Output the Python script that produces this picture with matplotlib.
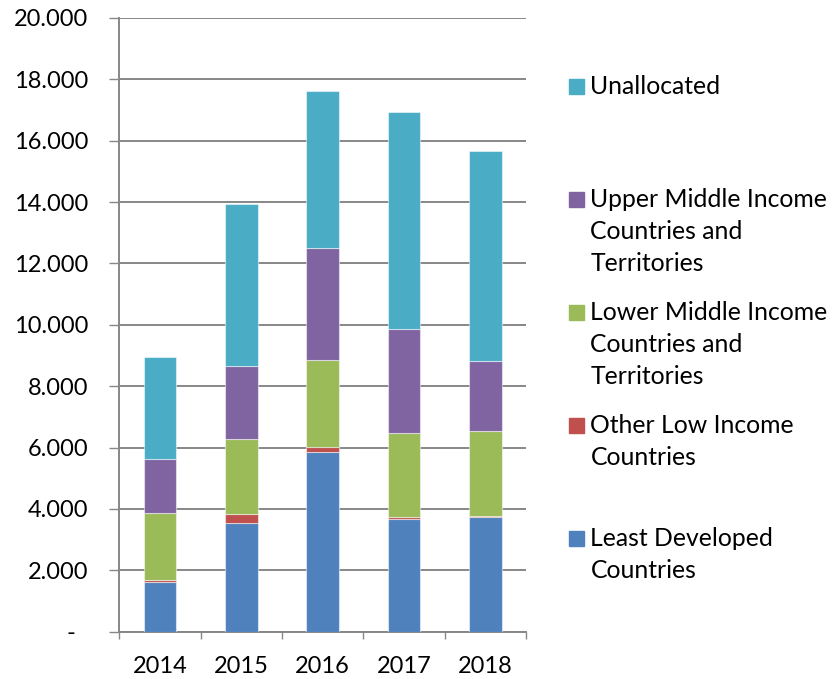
import matplotlib
matplotlib.use("Agg")
import matplotlib.pyplot as plt
from matplotlib.patches import Rectangle
from matplotlib.ticker import FuncFormatter, FixedLocator
import numpy as np

plt.rcParams['font.family'] = ['Lato', 'DejaVu Sans']

years = ["2014", "2015", "2016", "2017", "2018"]
least_developed = [1610, 3530, 5845, 3680, 3745]
other_low_income = [65, 295, 170, 65, 25]
lower_middle = [2190, 2455, 2845, 2725, 2770]
upper_middle = [1750, 2390, 3650, 3380, 2270]
unallocated = [3325, 5265, 5125, 7100, 6860]

series = [
    ("Least Developed\nCountries", least_developed, "#4F81BD"),
    ("Other Low Income\nCountries", other_low_income, "#C0504D"),
    ("Lower Middle Income\nCountries and\nTerritories", lower_middle, "#9BBB59"),
    ("Upper Middle Income\nCountries and\nTerritories", upper_middle, "#8064A2"),
    ("Unallocated", unallocated, "#4BACC6"),
]

W, H = 832, 679
fig = plt.figure(figsize=(W / 100, H / 100), dpi=100)
ax = fig.add_axes([119.5 / W, (H - 631.7) / H, 406.5 / W, (631.7 - 18) / H])

x = np.arange(len(years))
bottom = np.zeros(len(years))
for label, vals, color in series:
    ax.bar(x, vals, width=0.40, bottom=bottom, color=color,
           edgecolor=(1, 1, 1, 0.5), linewidth=0.8, zorder=3)
    bottom += np.array(vals)

ax.set_xlim(-0.5, len(years) - 0.5)
ax.set_ylim(0, 20000)
ax.set_yticks(np.arange(0, 20001, 2000))


def fmt(v, pos):
    if v == 0:
        return "-  "
    return f"{int(v):,}".replace(",", ".")


ax.yaxis.set_major_formatter(FuncFormatter(fmt))
ax.grid(axis='y', color='#878787', linewidth=1.4, zorder=0)
for s in ['top', 'right']:
    ax.spines[s].set_visible(False)
for s in ['left', 'bottom']:
    ax.spines[s].set_color('#878787')
    ax.spines[s].set_linewidth(1.4)

ax.tick_params(axis='y', length=7.2, width=1.0, color='#878787', pad=15.5,
               labelsize=17, labelcolor='black')
ax.set_xticks(x)
ax.set_xticklabels(years)
ax.xaxis.set_minor_locator(FixedLocator(np.arange(-0.5, len(years), 1.0)))
ax.tick_params(axis='x', which='major', length=0, pad=17.5, labelsize=17)
ax.tick_params(axis='x', which='minor', length=5, width=1.0, color='#878787')

# Legend (Excel-style, evenly spaced first lines)
legend_order = list(reversed(series))
base_y = 93.7
step = 113
line_px = 32.3
for i, (label, vals, color) in enumerate(legend_order):
    yb = base_y + i * step
    nlines = label.count("\n") + 1
    fig.patches.append(Rectangle((569 / W, (H - yb) / H), 14.5 / W, 14.5 / H,
                                 transform=fig.transFigure, color=color))
    y_last = yb + (nlines - 1) * line_px
    fig.text(590.5 / W, (H - y_last) / H, label, fontsize=17.8, va='baseline',
             ha='left', linespacing=1.47)

fig.savefig("out.png", dpi=100)
